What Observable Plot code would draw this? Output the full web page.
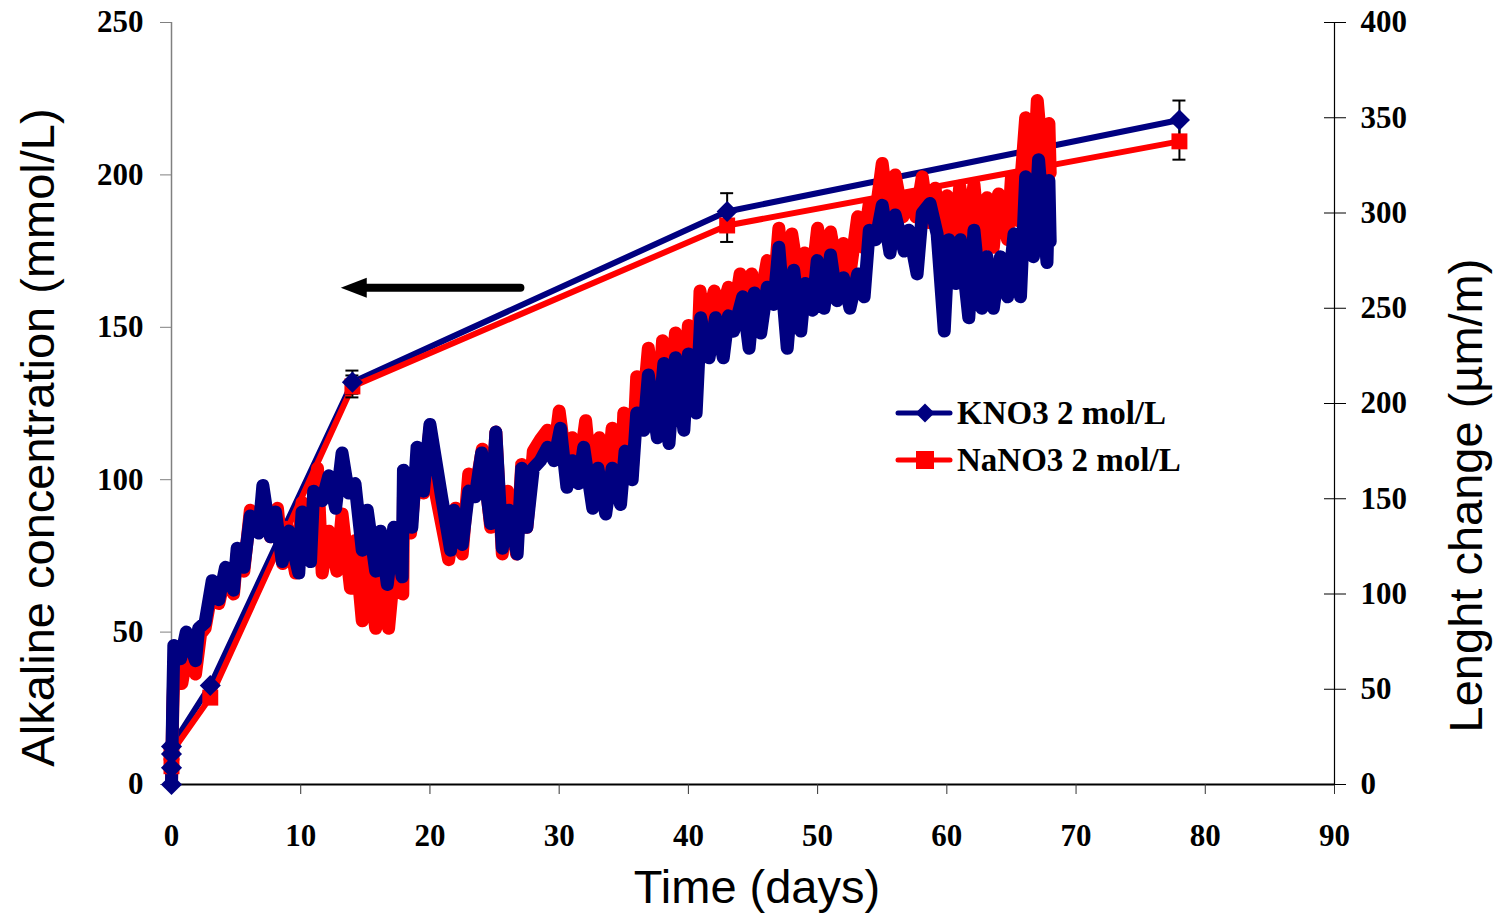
<!DOCTYPE html>
<html><head><meta charset="utf-8">
<script src="https://cdn.jsdelivr.net/npm/d3@7"></script>
<script src="https://cdn.jsdelivr.net/npm/@observablehq/plot@0.6"></script>
<style>
body{margin:0;background:#fff;}
#wrap{position:relative;width:1502px;height:916px;}
#legend{position:absolute;left:0;top:0;pointer-events:none;}
</style></head><body><div id="wrap"></div>
<script>
// ---- axes ----
const xDomain = [0, 90];
const xTicks = [0, 10, 20, 30, 40, 50, 60, 70, 80, 90];
const leftDomain = [0, 250];
const leftTicks = [0, 50, 100, 150, 200, 250];
const rightMax = 400;
const rightTicks = [0, 50, 100, 150, 200, 250, 300, 350, 400];
const seriesNames = ["KNO3 2 mol/L", "NaNO3 2 mol/L"];

// ---- alkaline concentration (mmol/L, left axis) ----
const kAlkDay = [0, 0, 0, 0, 3, 14, 43, 78];
const kAlkVal = [0, 5.5, 10, 12.5, 32.5, 132, 188, 218];
const kAlkErr = [0, 0, 0, 0, 0, 3.8, 6, 6.4];
const nAlkDay = [0, 0, 3, 14, 43, 78];
const nAlkVal = [6, 10.5, 28.5, 130.6, 183.4, 211];
const nAlkErr = [0, 0, 0, 3.6, 5.4, 6];

// ---- length change (um/m, right axis) ----
const kLenDay = [0,0.05,0.1,0.15,0.18,0.7,1.14,1.86,2.1,2.6,3.15,3.66,4.18,4.8,5.08,5.6,6.1,6.75,7.07,7.66,8.05,8.57,9.08,9.85,10.1,10.76,11.0,11.66,12.17,12.7,13.2,13.7,14.2,14.76,15.15,15.8,16.17,16.7,17.2,17.85,17.95,18.6,19.0,19.5,20.0,20.9,21.6,21.85,22.5,23.0,23.5,24.0,24.7,25.1,25.6,26.1,26.75,27.1,27.5,28.0,28.55,29.1,29.6,30.1,30.6,31.0,31.5,31.9,32.6,33.0,33.6,34.1,34.75,35.1,35.65,36.0,36.55,36.9,37.6,38.1,38.5,39.0,39.65,40.0,40.6,40.95,41.6,42.1,42.7,43.1,43.5,44.2,44.7,45.1,45.6,46.1,46.6,47.0,47.65,48.15,48.7,49.05,49.6,49.97,50.5,51.0,51.5,52.0,52.5,53.1,53.6,54.0,54.5,55.0,55.6,56.0,56.7,57.05,57.7,58.1,58.7,59.25,59.8,60.15,60.7,61.05,61.7,62.1,62.7,63.1,63.6,64.15,64.7,65.2,65.7,66.1,66.7,67.1,67.75,67.9,68.0];
const kLenVal = [0,22,45,62,73,66,80,65,82,85,107,97,114,102,124,114,141,132,157,130,143,117,133,111,143,117,154,149,162,145,174,153,158,123,144,112,133,105,135,109,165,135,177,154,189,151,123,144,126,154,151,174,137,185,124,144,121,166,135,166,170,177,170,187,156,170,158,177,145,166,142,166,147,175,160,195,186,215,182,221,179,224,186,226,195,245,224,245,224,246,238,256,229,258,237,261,252,282,229,270,238,263,249,275,250,278,254,266,250,268,256,291,286,304,279,299,280,291,268,300,305,289,238,286,263,286,245,291,250,277,250,277,256,289,256,319,277,328,274,317,285];
const nLenDay = [0,0.05,0.1,0.2,0.8,1.2,1.86,2.25,2.6,3.15,3.66,4.18,4.8,5.08,5.6,6.1,6.75,7.07,7.66,8.2,8.6,8.95,9.6,10.1,10.6,11.3,11.66,12.17,12.8,13.2,13.85,14.2,14.76,15.15,15.8,16.17,16.8,17.2,17.9,17.95,18.5,19.0,19.5,20.0,20.5,21.45,21.98,22.5,23.0,23.5,24.05,24.7,25.1,25.6,26.0,26.7,27.1,27.5,28.0,28.55,29.1,29.6,30.0,30.6,31.0,31.5,32.05,32.6,33.1,33.6,34.1,34.75,35.0,35.65,36.0,36.55,36.9,37.6,38.0,38.5,39.0,39.55,40.0,40.6,40.9,41.3,42.0,42.5,43.1,43.6,44.0,44.5,44.9,45.6,46.1,46.6,47.0,47.5,48.0,48.7,49.0,49.6,50.0,50.5,51.0,51.5,52.0,52.5,53.1,53.5,54.0,54.5,55.0,55.5,56.0,56.6,57.05,57.6,58.1,58.6,59.1,59.6,60.0,60.5,61.0,61.6,62.1,62.6,63.1,63.6,64.0,64.7,65.0,65.5,66.1,66.6,67.0,67.6,67.9,68.0];
const nLenVal = [0,20,40,61,53,69,58,79,82,103,95,111,100,121,112,144,133,150,130,145,116,135,111,148,118,166,111,133,112,142,103,128,86,118,82,107,82,111,100,151,132,168,153,187,151,118,145,121,163,154,176,135,185,121,154,121,168,135,175,181,186,174,196,165,182,163,191,153,182,149,187,153,195,163,214,202,229,191,233,193,237,198,241,202,259,240,259,247,261,250,268,254,268,256,275,258,292,250,289,258,279,268,292,265,290,271,284,268,298,282,305,300,326,298,320,298,309,298,319,295,313,273,309,280,314,289,315,279,308,282,310,286,319,296,350,303,359,312,347,321];

// ---- annotation arrow (days, mmol/L) ----
const arrowFromDay = 27.0;
const arrowToDay = 13.1;
const arrowLevel = 163;

const NAVY = "#000080", RED = "#ff0000";
const k = leftDomain[1] / rightMax;

const kAlk = kAlkDay.map((d, i) => ({d, v: kAlkVal[i], e: kAlkErr[i]}));
const nAlk = nAlkDay.map((d, i) => ({d, v: nAlkVal[i], e: nAlkErr[i]}));
const kLen = kLenDay.map((d, i) => ({d, v: kLenVal[i] * k}));
const nLen = nLenDay.map((d, i) => ({d, v: nLenVal[i] * k}));
const errs = [...kAlk, ...nAlk].filter(p => p.e > 0);
const arrowLine = [{d: arrowFromDay, v: arrowLevel}, {d: arrowToDay + 1.9, v: arrowLevel}];
const arrowHead = [{d: arrowToDay, v: arrowLevel}];
const headSymbol = {draw(ctx) { ctx.moveTo(0, 0); ctx.lineTo(26, -10); ctx.lineTo(26, 10); ctx.closePath(); }};
const titleFont = {fontFamily: "Liberation Sans", fontWeight: "normal", fontSize: 47, textAnchor: "middle", lineAnchor: "middle"};

const plot = Plot.plot({
  width: 1502, height: 916,
  marginLeft: 171, marginRight: 168, marginTop: 22, marginBottom: 132,
  style: {fontFamily: "Liberation Serif", fontSize: "31px", fontWeight: "bold", background: "white", color: "black", overflow: "visible"},
  x: {domain: xDomain},
  y: {domain: leftDomain},
  marks: [
    Plot.ruleX([xDomain[0]], {stroke: "#808080", strokeWidth: 1.5}),
    Plot.ruleX([xDomain[1]], {stroke: "black", strokeWidth: 1.2}),
    Plot.ruleY([leftDomain[0]], {stroke: "black", strokeWidth: 2}),
    Plot.axisX({ticks: xTicks, tickSize: 10, tickPadding: 29, label: null, tickFormat: d => String(d), stroke: "#333"}),
    Plot.axisY({ticks: leftTicks, tickSize: 11, tickPadding: 17, label: null, tickFormat: d => String(d), stroke: "#808080"}),
    Plot.axisY({anchor: "right", ticks: rightTicks.map(t => t * k), tickFormat: d => String(Math.round(d / k)), tickSize: 22, insetRight: 11, tickPadding: 15, label: null, textAnchor: "start"}),
    // alkaline lines
    Plot.line(kAlk, {x: "d", y: "v", stroke: NAVY, strokeWidth: 6}),
    Plot.line(nAlk, {x: "d", y: "v", stroke: RED, strokeWidth: 6}),
    // length change bands
    Plot.line(nLen, {x: "d", y: "v", stroke: RED, strokeWidth: 13, strokeLinejoin: "round", strokeLinecap: "round"}),
    Plot.line(kLen, {x: "d", y: "v", stroke: NAVY, strokeWidth: 13, strokeLinejoin: "round", strokeLinecap: "round"}),
    // error bars
    Plot.ruleX(errs, {x: "d", y1: p => p.v - p.e, y2: p => p.v + p.e, stroke: "black", strokeWidth: 2}),
    Plot.ruleY(errs, {y: p => p.v + p.e, x1: "d", x2: "d", insetLeft: -6.5, insetRight: -6.5, stroke: "black", strokeWidth: 2}),
    Plot.ruleY(errs, {y: p => p.v - p.e, x1: "d", x2: "d", insetLeft: -6.5, insetRight: -6.5, stroke: "black", strokeWidth: 2}),
    // markers
    Plot.dot(nAlk, {x: "d", y: "v", symbol: "square", r: 9, fill: RED, stroke: "none"}),
    Plot.dot(kAlk, {x: "d", y: "v", symbol: "diamond2", r: 9.5, fill: NAVY, stroke: "none"}),
    // arrow
    Plot.line(arrowLine, {x: "d", y: "v", stroke: "black", strokeWidth: 8}),
    Plot.dot(arrowHead, {x: "d", y: "v", symbol: headSymbol, r: 10, fill: "black", stroke: "none"}),
    // titles
    Plot.text(["Alkaline concentration (mmol/L)"], {frameAnchor: "left", dx: -133, dy: 34, rotate: -90, ...titleFont}),
    Plot.text(["Lenght change (µm/m)"], {frameAnchor: "right", dx: 132, dy: 92, rotate: -90, ...titleFont}),
    Plot.text(["Time (days)"], {frameAnchor: "bottom", dx: 4, dy: 103, ...titleFont})
  ]
});
const wrap = document.getElementById("wrap");
wrap.appendChild(plot);

// legend
const ns = "http://www.w3.org/2000/svg";
const lg = document.createElementNS(ns, "svg");
lg.setAttribute("id", "legend"); lg.setAttribute("width", 1502); lg.setAttribute("height", 916);
const rows = [{name: seriesNames[0], color: NAVY, shape: "diamond", cy: 413}, {name: seriesNames[1], color: RED, shape: "square", cy: 460}];
let html = "";
for (const r of rows) {
  html += `<line x1="898" x2="950" y1="${r.cy}" y2="${r.cy}" stroke="${r.color}" stroke-width="5" stroke-linecap="round"/>`;
  if (r.shape === "diamond") html += `<path d="M925,${r.cy - 9.5}L934.5,${r.cy}L925,${r.cy + 9.5}L915.5,${r.cy}Z" fill="${r.color}"/>`;
  else html += `<rect x="916" y="${r.cy - 9}" width="18" height="18" fill="${r.color}"/>`;
  html += `<text x="957" y="${r.cy + 11}" font-family="Liberation Serif" font-weight="bold" font-size="33" fill="black">${r.name}</text>`;
}
lg.innerHTML = html;
wrap.appendChild(lg);
</script>
</body></html>
